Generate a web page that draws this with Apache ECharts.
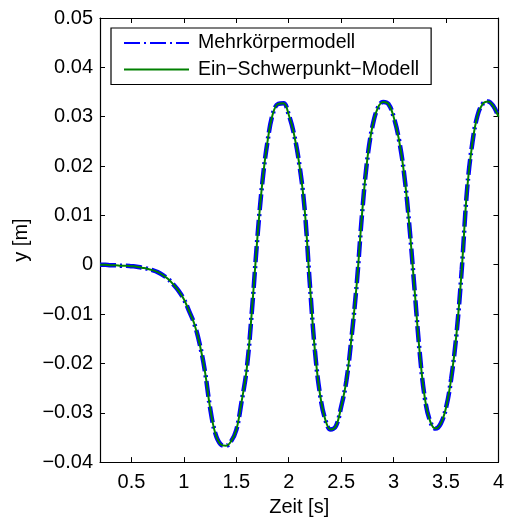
<!DOCTYPE html>
<html>
<head>
<meta charset="utf-8">
<script src="https://cdn.jsdelivr.net/npm/echarts@6/dist/echarts.min.js"></script>
<style>html,body{margin:0;padding:0;background:#fff;}#c{width:507px;height:522px;}</style>
</head>
<body>
<div id="c"></div>
<script>
var zeit = [0.20,0.25,0.30,0.35,0.40,0.45,0.50,0.55,0.60,0.65,0.70,0.75,0.80,0.85,0.90,0.95,1.00,1.05,1.10,1.15,1.20,1.25,1.30,1.35,1.40,1.45,1.50,1.55,1.60,1.65,1.70,1.75,1.80,1.85,1.90,1.95,2.00,2.05,2.10,2.15,2.20,2.25,2.30,2.35,2.40,2.45,2.50,2.55,2.60,2.65,2.70,2.75,2.80,2.85,2.90,2.95,3.00,3.05,3.10,3.15,3.20,3.25,3.30,3.35,3.40,3.45,3.50,3.55,3.60,3.65,3.70,3.75,3.80,3.85,3.90,3.95,4.00];
var mehrkoerper = [0,0,-0.0001,-0.0001,-0.0002,-0.0002,-0.0003,-0.0004,-0.0006,-0.0008,-0.0011,-0.0015,-0.0021,-0.0029,-0.0040,-0.0053,-0.0070,-0.0094,-0.0120,-0.0160,-0.0215,-0.0290,-0.0342,-0.0364,-0.0367,-0.0358,-0.0335,-0.0278,-0.0210,-0.0090,0.0052,0.0170,0.0253,0.0307,0.0326,0.0327,0.0304,0.0265,0.0205,0.0117,-0.0035,-0.0175,-0.0265,-0.0315,-0.0334,-0.0327,-0.0288,-0.0235,-0.0145,-0.0035,0.0105,0.0215,0.0282,0.0318,0.0330,0.0326,0.0300,0.0255,0.0185,0.0080,-0.0050,-0.0180,-0.0273,-0.0318,-0.0332,-0.0322,-0.0290,-0.0230,-0.0140,-0.0010,0.0150,0.0245,0.0302,0.0326,0.0331,0.0322,0.0300];
var schwerpunkt = [0,0,-0.0001,-0.0001,-0.0002,-0.0002,-0.0003,-0.0004,-0.0006,-0.0008,-0.0011,-0.0015,-0.0021,-0.0029,-0.0040,-0.0053,-0.0070,-0.0094,-0.0120,-0.0160,-0.0215,-0.0290,-0.0342,-0.0364,-0.0367,-0.0358,-0.0335,-0.0278,-0.0210,-0.0090,0.0052,0.0170,0.0253,0.0307,0.0326,0.0327,0.0304,0.0265,0.0205,0.0117,-0.0035,-0.0175,-0.0265,-0.0315,-0.0334,-0.0327,-0.0288,-0.0235,-0.0145,-0.0035,0.0105,0.0215,0.0282,0.0318,0.0330,0.0326,0.0300,0.0255,0.0185,0.0080,-0.0050,-0.0180,-0.0273,-0.0318,-0.0332,-0.0322,-0.0290,-0.0230,-0.0140,-0.0010,0.0150,0.0245,0.0302,0.0326,0.0331,0.0322,0.0300];
var xTicks = [0.5,1,1.5,2,2.5,3,3.5,4];
var seriesNames = ['Mehrkörpermodell', 'Ein\u2212Schwerpunkt\u2212Modell'];

function pairs(xs, ys){ return xs.map(function(x,i){ return [x, ys[i]]; }); }
var FONT = '"Liberation Sans", Arial, Helvetica, sans-serif';
var axisLineStyle = {color:'#000', width:1.2};
function yFmt(v){
  var r = Math.round(v*100)/100;
  if (r === 0) return '0';
  return (r < 0 ? '\u2212' : '') + Math.abs(r).toFixed(2);
}
var chart = echarts.init(document.getElementById('c'), null, {renderer:'canvas'});
chart.setOption({
  backgroundColor:'#fff',
  animation:false,
  textStyle:{fontFamily:FONT},
  grid:{left:100, right:4, top:18, bottom:59, containLabel:false},
  legend:{
    orient:'vertical', left:111, top:28,
    data:seriesNames,
    itemWidth:65, itemHeight:14, itemGap:6.5,
    padding:[5,12,5,12],
    itemStyle:{opacity:0},
    borderColor:'#000', borderWidth:1.2, backgroundColor:'#fff',
    textStyle:{fontFamily:FONT, fontSize:19.5, color:'#000', lineHeight:20, padding:[0,0,0,4]}
  },
  xAxis:[{
    type:'value', min:0.2, max:4, position:'bottom',
    name:'Zeit [s]', nameLocation:'middle', nameGap:34,
    nameTextStyle:{fontFamily:FONT, fontSize:20, color:'#000'},
    axisLine:{show:true, onZero:false, lineStyle:axisLineStyle},
    axisTick:{show:true, inside:true, length:5, customValues:xTicks, lineStyle:{color:'#000', width:1}},
    axisLabel:{show:true, customValues:xTicks, margin:10, fontFamily:FONT, fontSize:20, color:'#000', formatter:function(v){return String(v);}},
    splitLine:{show:false}
  },{
    type:'value', min:0.2, max:4, position:'top',
    axisLine:{show:true, onZero:false, lineStyle:axisLineStyle},
    axisTick:{show:true, inside:true, length:5, customValues:xTicks, lineStyle:{color:'#000', width:1}},
    axisLabel:{show:false}, splitLine:{show:false}
  }],
  yAxis:[{
    type:'value', min:-0.04, max:0.05, interval:0.01, position:'left',
    name:'y [m]', nameLocation:'middle', nameGap:67,
    nameTextStyle:{fontFamily:FONT, fontSize:20, color:'#000'},
    axisLine:{show:true, onZero:false, lineStyle:axisLineStyle},
    axisTick:{show:true, inside:true, length:5, lineStyle:{color:'#000', width:1}},
    axisLabel:{show:true, margin:7, fontFamily:FONT, fontSize:20, color:'#000', formatter:yFmt},
    splitLine:{show:false}
  },{
    type:'value', min:-0.04, max:0.05, interval:0.01, position:'right',
    axisLine:{show:true, onZero:false, lineStyle:axisLineStyle},
    axisTick:{show:true, inside:true, length:5, lineStyle:{color:'#000', width:1}},
    axisLabel:{show:false}, splitLine:{show:false}
  }],
  series:[{
    name:seriesNames[0], type:'line', xAxisIndex:0, yAxisIndex:0,
    data:pairs(zeit, mehrkoerper), smooth:0.4, symbol:'none',
    lineStyle:{color:'#0000ff', width:4.5, type:[16,4,2,4], cap:'butt'},
    itemStyle:{color:'#0000ff'}, z:2
  },{
    name:seriesNames[1], type:'line', xAxisIndex:0, yAxisIndex:0,
    data:pairs(zeit, schwerpunkt), smooth:0.4, symbol:'none',
    lineStyle:{color:'#008000', width:2, type:'solid'},
    itemStyle:{color:'#008000'}, z:3
  }]
});
</script>
</body>
</html>
